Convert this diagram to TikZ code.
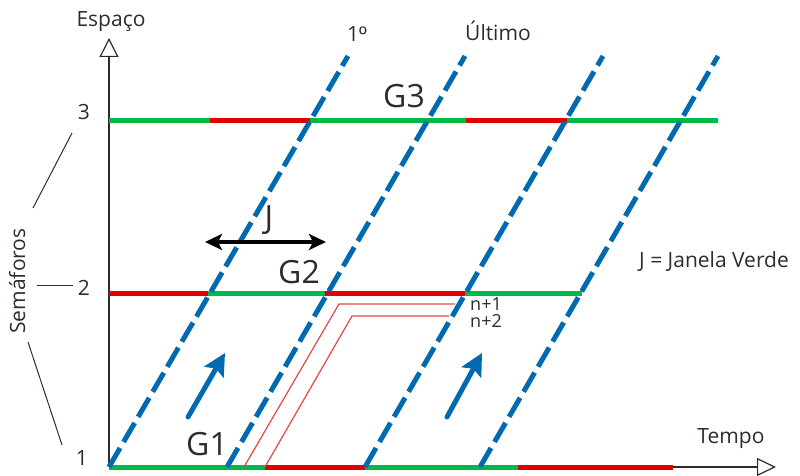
\documentclass[tikz,border=0pt]{standalone}
\usepackage{fontspec}
\setmainfont{Open Sans}
\newfontfamily\ordfont{Liberation Sans}
\usetikzlibrary{arrows.meta}
\definecolor{gr}{RGB}{0,185,70}
\definecolor{rd}{RGB}{225,0,0}
\definecolor{bl}{RGB}{0,106,176}
\definecolor{axc}{RGB}{50,42,42}
\definecolor{thinred}{RGB}{232,70,70}
\tikzset{
  bar/.style={line width=5pt},
  sig/.style={draw=bl, line width=5pt, dash pattern=on 22pt off 7pt},
  axis/.style={draw=axc, line width=1.2pt},
  tick/.style={draw=axc, line width=1pt},
  lbl/.style={font=\fontsize{21}{21}\selectfont, text=axc, inner sep=0pt, anchor=base},
  big/.style={font=\fontsize{32}{32}\selectfont, text=axc, inner sep=0pt, anchor=base},
  small/.style={font=\fontsize{18}{18}\selectfont, text=axc, inner sep=0pt, anchor=base west},
  flow/.style={draw=bl, line width=5pt, line cap=round, -{Stealth[length=22pt,width=22pt,inset=4pt]}},
  win/.style={draw=black, line width=4pt, {Stealth[length=17pt,width=16pt,inset=4pt]}-{Stealth[length=17pt,width=16pt,inset=4pt]}},
  thin/.style={draw=thinred, line width=1.2pt}
}
\begin{document}
\begin{tikzpicture}[x=1pt,y=-1pt]
\useasboundingbox (0,0) rectangle (800,476);
% axes
\coordinate (O) at (109,467);
\coordinate (Ytip) at (109,38);
\coordinate (Xtip) at (776,467);
\draw[axis, -{Triangle[open,length=19pt,width=19pt,fill=white]}] (O) -- (Ytip);
\draw[axis, -{Triangle[open,length=19pt,width=18pt,fill=white]}] (O) -- (Xtip);
% level 3
\draw[bar, gr] (109,120.5) -- (210,120.5);
\draw[bar, rd] (210,120.5) -- (310,120.5);
\draw[bar, gr] (310,120.5) -- (466,120.5);
\draw[bar, rd] (466,120.5) -- (567,120.5);
\draw[bar, gr] (567,120.5) -- (718,120.5);
% level 2
\draw[bar, rd] (109,293.5) -- (208,293.5);
\draw[bar, gr] (208,293.5) -- (325,293.5);
\draw[bar, rd] (325,293.5) -- (465,293.5);
\draw[bar, gr] (465,293.5) -- (582,293.5);
% level 1
\draw[bar, gr] (109,467) -- (265,467);
\draw[bar, rd] (265,467) -- (365,467);
\draw[bar, gr] (365,467) -- (518,467);
\draw[bar, rd] (518,467) -- (673,467);
% thin red paths
\coordinate (a1) at (244,467); \coordinate (a2) at (339,304); \coordinate (a3) at (455,304);
\coordinate (b1) at (265,467); \coordinate (b2) at (352,316); \coordinate (b3) at (449,316);
\draw[thin] (a1) -- (a2) -- (a3);
\draw[thin] (b1) -- (b2) -- (b3);
% dashed signal lines
\coordinate (s1a) at (109,467); \coordinate (s1b) at (348,56);
\coordinate (s2a) at (227,467); \coordinate (s2b) at (465,56);
\coordinate (s3a) at (365,467); \coordinate (s3b) at (603,56);
\coordinate (s4a) at (480,467); \coordinate (s4b) at (718,56);
\draw[sig] (s1a) -- (s1b);
\draw[sig] (s2a) -- (s2b);
\draw[sig] (s3a) -- (s3b);
\draw[sig] (s4a) -- (s4b);
% flow arrows
\coordinate (f1a) at (188,417); \coordinate (f1b) at (225,353);
\coordinate (f2a) at (447,417); \coordinate (f2b) at (482,353);
\draw[flow] (f1a) -- (f1b);
\draw[flow] (f2a) -- (f2b);
% green window arrow
\coordinate (w1) at (205,242); \coordinate (w2) at (326,242);
\draw[win] (w1) -- (w2);
% semaphore pointer lines
\coordinate (p1a) at (72,133); \coordinate (p1b) at (33,208);
\coordinate (p2a) at (37,285); \coordinate (p2b) at (73,285);
\coordinate (p3a) at (28,342); \coordinate (p3b) at (62,445);
\draw[tick] (p1a) -- (p1b);
\draw[tick] (p2a) -- (p2b);
\draw[tick] (p3a) -- (p3b);
% labels
\node[lbl] (esp) at (111,27) {Espaço};
\node[lbl] (tmp) at (731,443) {Tempo};
\node[lbl] (first) at (357,42) {1{\ordfont º}};
\node[lbl] (last) at (498,41) {Último};
\node[lbl] (l3) at (84,120) {3};
\node[lbl] (l2) at (84,295) {2};
\node[lbl] (l1) at (82,465) {1};
\node[lbl, rotate=90] (sem) at (25,281) {Semáforos};
\node[lbl] (jv) at (714,267) {J = Janela Verde};
\node[big] (g3) at (404,108) {G3};
\node[big] (g2) at (299,283) {G2};
\node[big] (g1) at (207,455) {G1};
\node[big] (jj) at (269,228) {J};
\node[small] (n1) at (470,310) {n+1};
\node[small] (n2) at (470,327) {n+2};
\end{tikzpicture}
\end{document}
